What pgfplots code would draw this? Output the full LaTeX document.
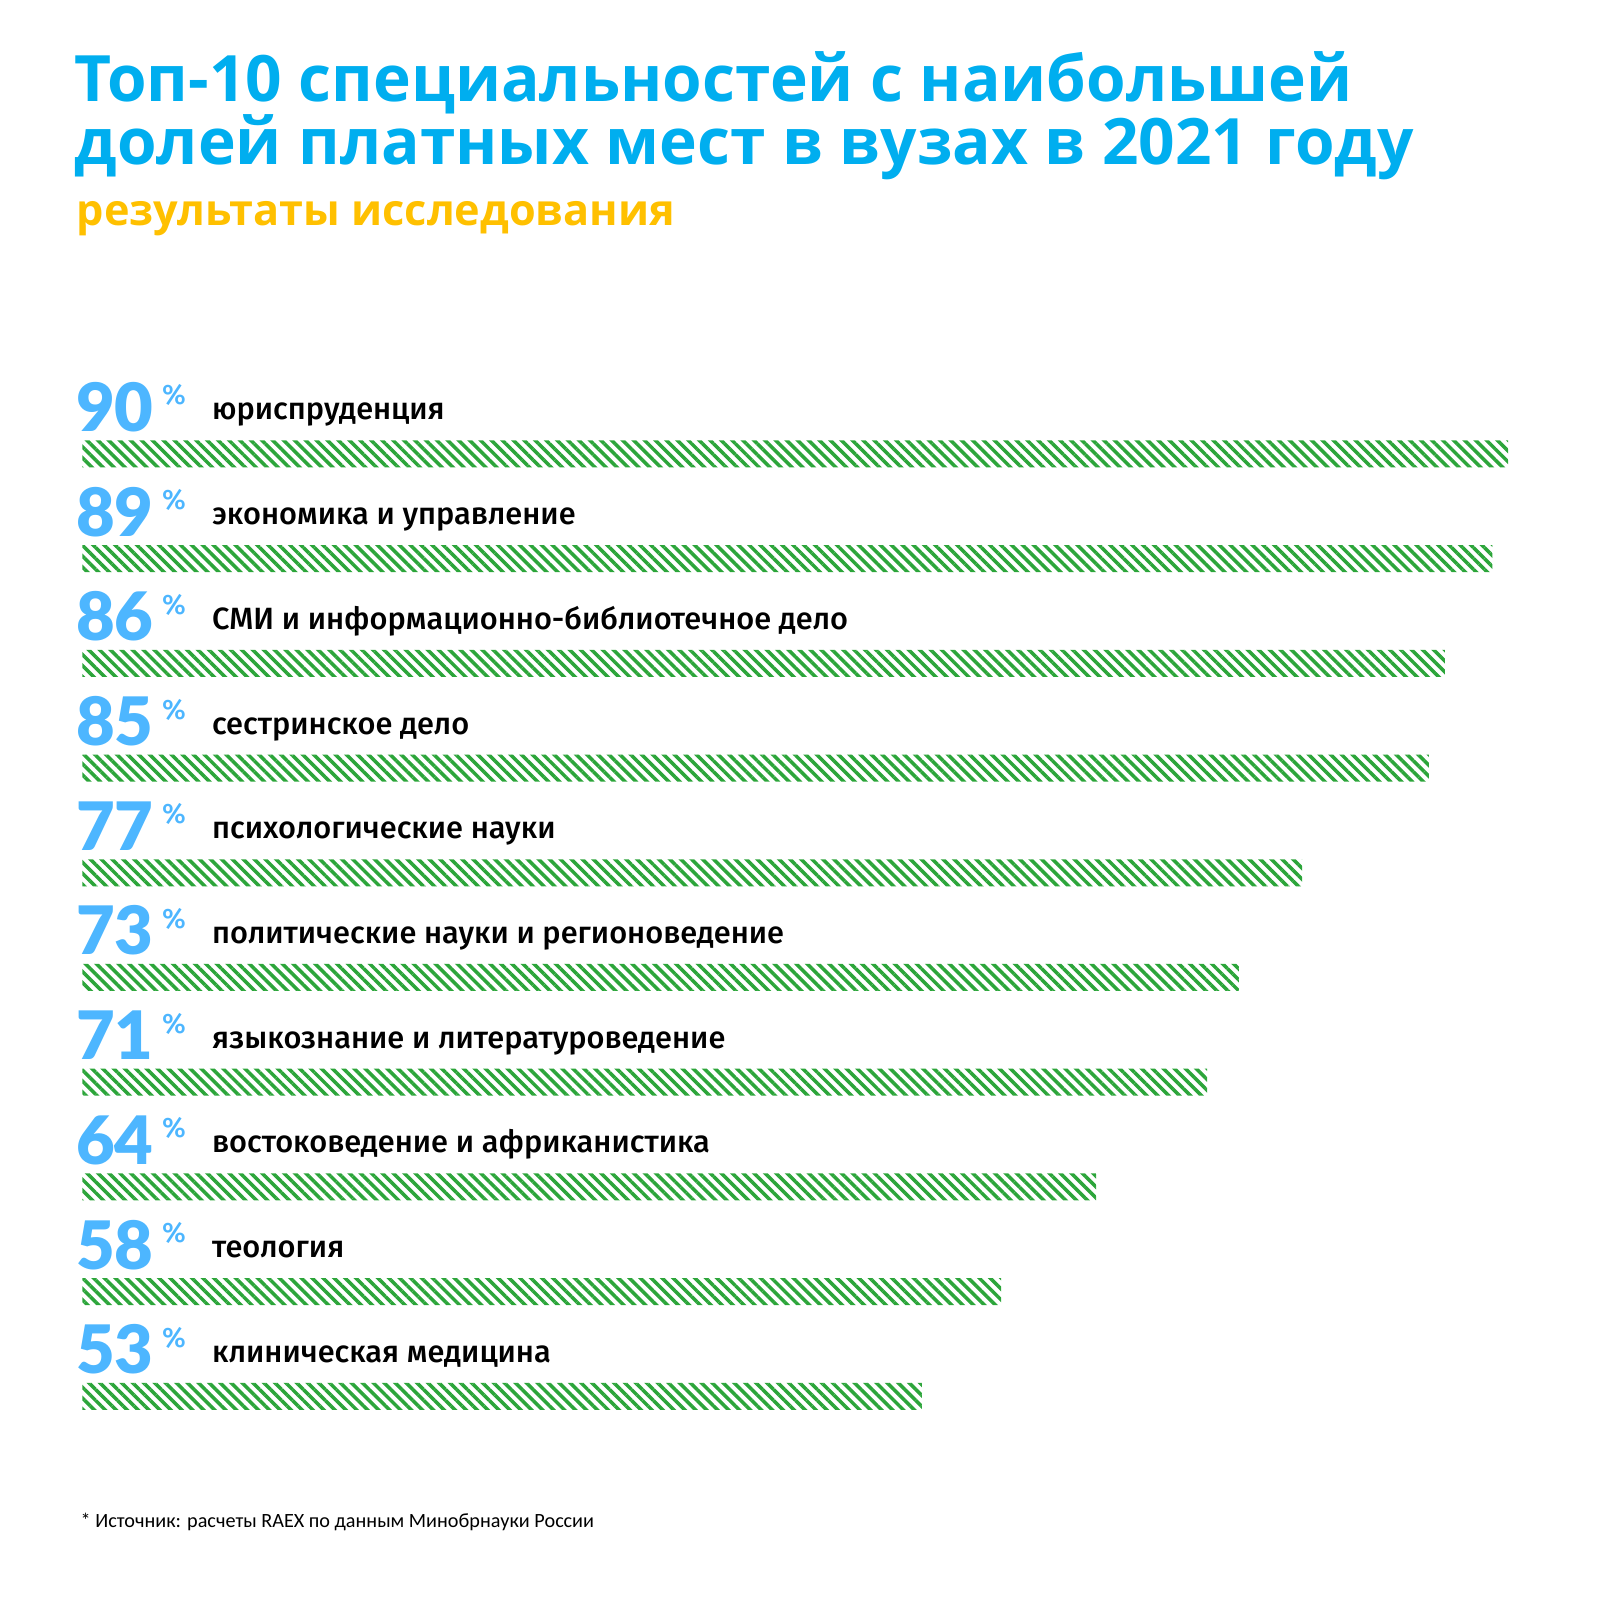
\documentclass[border=0pt]{standalone}
\usepackage{fontspec}
\setmainfont{Open Sans}
\newfontfamily\numfont{Lato Black}
\newfontfamily\catfont{Fira Sans Medium}
\newfontfamily\notefont{Carlito}
\usepackage{pgfplots}
\usepackage{pgfplotstable}
\pgfplotsset{compat=1.18}
\usetikzlibrary{patterns.meta}

\definecolor{titleblue}{RGB}{0,174,239}
\definecolor{numblue}{RGB}{77,182,255}
\definecolor{subyellow}{RGB}{255,192,0}
\definecolor{bargreen}{RGB}{44,165,58}

% share of paid places, top to bottom
\pgfplotstableread[col sep=semicolon]{
idx;val;name
0;90;юриспруденция
1;89;экономика и управление
2;86;СМИ и информационно-библиотечное дело
3;85;сестринское дело
4;77;психологические науки
5;73;политические науки и регионоведение
6;71;языкознание и литературоведение
7;64;востоковедение и африканистика
8;58;теология
9;53;клиническая медицина
}\specs

\begin{document}
\begin{tikzpicture}
\begin{axis}[
    at={(0,0)}, anchor=south west,
    width=16cm, height=16cm,
    scale only axis,
    hide axis,
    clip=false,
    xmin=-5.2, xmax=95.8,
    ymin=-4.336, ymax=10.946,
    y dir=reverse,
]
% keep the whole square page
\path (rel axis cs:0,0) rectangle (rel axis cs:1,1);
% bars
\addplot[xbar, bar width=0.27cm, bar shift=0pt, draw=none,
    pattern={Lines[angle=-45,distance=2.2pt,line width=1.0pt]},
    pattern color=bargreen]
    table[x=val, y=idx] {\specs};
% big numbers
\addplot[draw=none, mark=none, point meta=explicit symbolic,
    nodes near coords={\pgfplotspointmeta},
    every node near coord/.style={anchor=base west, inner sep=0pt,
        xshift=-0.07cm, yshift=0.225cm, text=numblue,
        font=\numfont\fontsize{19}{19}\selectfont}]
    table[x expr=0, y=idx, meta=val] {\specs};
% percent signs
\addplot[draw=none, mark=none, point meta=explicit symbolic,
    nodes near coords={\%},
    every node near coord/.style={anchor=base west, inner sep=0pt,
        xshift=0.79cm, yshift=0.49cm, text=numblue,
        font=\catfont\fontsize{8}{8}\selectfont}]
    table[x expr=0, y=idx, meta=val] {\specs};
% category names
\addplot[draw=none, mark=none, point meta=explicit symbolic,
    nodes near coords={\pgfplotspointmeta},
    every node near coord/.style={anchor=base west, inner sep=0pt,
        xshift=1.29cm, yshift=0.34cm, text=black,
        font=\catfont\fontsize{8.75}{8.75}\selectfont}]
    table[x expr=0, y=idx, meta=name] {\specs};
\end{axis}
\node[anchor=base west, inner sep=0pt, text=titleblue,
    font=\bfseries\fontsize{18.2}{18.2}\selectfont]
    at ([shift={(0.74cm,-1.02cm)}]current axis.north west)
    {Топ-10 специальностей с наибольшей};
\node[anchor=base west, inner sep=0pt, text=titleblue,
    font=\bfseries\fontsize{18.2}{18.2}\selectfont]
    at ([shift={(0.74cm,-1.65cm)}]current axis.north west)
    {долей платных мест в вузах в 2021 году};
\node[anchor=base west, inner sep=0pt, text=subyellow,
    font=\bfseries\fontsize{12.3}{12.3}\selectfont]
    at ([shift={(0.76cm,-2.26cm)}]current axis.north west)
    {результаты исследования};
\node[anchor=base west, inner sep=0pt, text=black,
    font=\notefont\fontsize{5.75}{5.75}\selectfont]
    at ([shift={(0.80cm,-15.27cm)}]current axis.north west)
    {* Источник: расчеты RAEX по данным Минобрнауки России};
\end{tikzpicture}
\end{document}
